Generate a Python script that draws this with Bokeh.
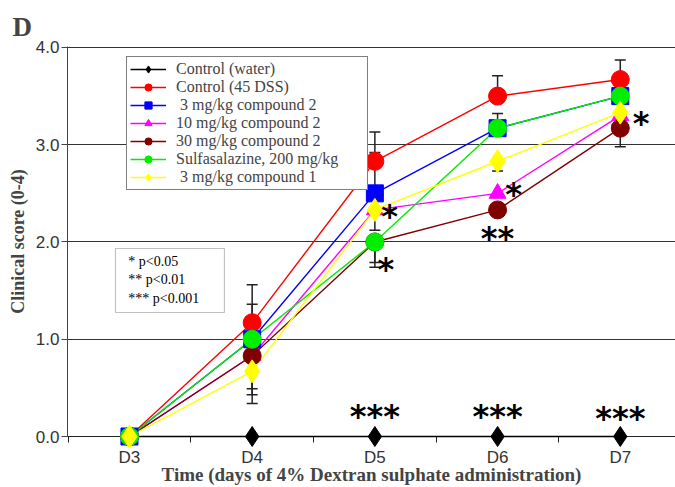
from bokeh.plotting import figure
from bokeh.models import (FixedTicker, Legend, LegendItem, Label, BoxAnnotation,
                          PrintfTickFormatter, ColumnDataSource)
from bokeh.core.properties import value
from bokeh.embed import file_html
from bokeh.resources import INLINE

# ---------------- data ----------------
days = ["D3", "D4", "D5", "D6", "D7"]
xpos = [0, 1, 2, 3, 4]

series_labels = ["Control (water)", "Control (45 DSS)", " 3 mg/kg compound 2",
                 "10 mg/kg compound 2", "30 mg/kg compound 2",
                 "Sulfasalazine, 200 mg/kg", " 3 mg/kg compound 1"]

water = [0.0, 0.0, 0.0, 0.0, 0.0]
dss = [0.0, 1.17, 2.83, 3.50, 3.67]
c2_3 = [0.0, 1.00, 2.50, 3.17, 3.50]
c2_10 = [0.0, 0.83, 2.33, 2.50, 3.30]
c2_30 = [0.0, 0.83, 2.00, 2.33, 3.17]
sulfa = [0.0, 1.00, 2.00, 3.17, 3.50]
c1_3 = [0.0, 0.67, 2.33, 2.83, 3.33]

# visible error bar extents (upper / lower)
water_up = [0, 0, 0, 0, 0];        water_lo = [0, 0, 0, 0, 0]
dss_up = [0, 0.39, 0.30, 0.21, 0.20]; dss_lo = [0, 0, 0, 0, 0]
c2_3_up = [0, 0.36, 0.42, 0.15, 0];   c2_3_lo = [0, 0, 0, 0, 0]
c2_10_up = [0, 0, 0, 0, 0];           c2_10_lo = [0, 0.40, 0.21, 0, 0]
c2_30_up = [0, 0, 0, 0, 0];           c2_30_lo = [0, 0.34, 0.21, 0, 0.19]
sulfa_up = [0, 0, 0, 0, 0];           sulfa_lo = [0, 0, 0.26, 0, 0]
c1_3_up = [0, 0, 0, 0, 0];            c1_3_lo = [0, 0.33, 0, 0.10, 0]

# significance marks
sig_text = ["***", "***", "***", "*", "*", "*", "**", "*"]
sig_x = [2.0, 3.0, 4.0, 2.12, 2.09, 3.13, 3.0, 4.17]
sig_y = [0.27, 0.27, 0.25, 2.33, 1.78, 2.56, 2.10, 3.28]

p_values = ["* p<0.05", "** p<0.01", "*** p<0.001"]

# ---------------- styles ----------------
colors = ["black", "#ff0000", "#0000ff", "#ff00ff", "#800000", "#00ee00", "#ffff00"]
markers = ["diamond", "circle", "square", "triangle", "circle", "circle", "diamond"]
msizes = [20, 18, 17, 17, 18, 18, 23]

values_list = [water, dss, c2_3, c2_10, c2_30, sulfa, c1_3]
ups = [water_up, dss_up, c2_3_up, c2_10_up, c2_30_up, sulfa_up, c1_3_up]
los = [water_lo, dss_lo, c2_3_lo, c2_10_lo, c2_30_lo, sulfa_lo, c1_3_lo]

p = figure(width=675, height=487, x_range=(-0.505, 4.45), y_range=(0, 4.01),
           output_backend="svg", toolbar_location=None,
           min_border_left=67, min_border_right=0, min_border_top=46, min_border_bottom=51)
p.outline_line_color = None
p.background_fill_color = "white"

# panel letter as title
p.title.text = "D"
p.title.align = "left"
p.title.offset = -55
p.title.text_font = "Liberation Serif"
p.title.text_font_style = "bold"
p.title.text_font_size = "27px"
p.title.standoff = 9

# axes
p.xaxis.ticker = FixedTicker(ticks=xpos, minor_ticks=[-0.5, 0.5, 1.5, 2.5, 3.5])
p.xaxis.major_label_overrides = {x: d for x, d in zip(xpos, days)}
p.xaxis.major_tick_out = 0
p.xaxis.major_tick_in = 0
p.xaxis.minor_tick_out = 6
p.xaxis.minor_tick_in = 0
p.xaxis.minor_tick_line_color = "#222222"
p.xaxis.axis_line_color = "#222222"
p.xaxis.major_label_standoff = 5
p.xaxis.major_label_text_font = "Liberation Sans"
p.xaxis.major_label_text_font_size = "17px"
p.xaxis.major_label_text_color = "#333333"
p.xaxis.axis_label = "Time (days of 4% Dextran sulphate administration)"
p.xaxis.axis_label_text_font = "Liberation Serif"
p.xaxis.axis_label_text_font_style = "bold"
p.xaxis.axis_label_text_font_size = "19px"
p.xaxis.axis_label_standoff = -6

p.yaxis.ticker = FixedTicker(ticks=[0, 1, 2, 3, 4], minor_ticks=[])
p.yaxis.formatter = PrintfTickFormatter(format="%.1f")
p.yaxis.major_tick_out = 6
p.yaxis.major_tick_in = 0
p.yaxis.major_tick_line_color = "#444444"
p.yaxis.axis_line_color = "#444444"
p.yaxis.major_label_standoff = 2
p.yaxis.major_label_text_font = "Liberation Sans"
p.yaxis.major_label_text_font_size = "17px"
p.yaxis.major_label_text_color = "#333333"
p.yaxis.axis_label = "Clinical score (0-4)"
p.yaxis.axis_label_text_font = "Liberation Serif"
p.yaxis.axis_label_text_font_style = "bold"
p.yaxis.axis_label_text_font_size = "18px"
p.yaxis.axis_label_standoff = 5

p.xgrid.visible = False
p.ygrid.ticker = FixedTicker(ticks=[1, 2, 3, 4])
p.ygrid.grid_line_color = "#333333"
p.ygrid.grid_line_width = 1

# error bars
for vals, up, lo in zip(values_list, ups, los):
    x0, y0, y1, cx, cy = [], [], [], [], []
    for x, v, u, l in zip(xpos, vals, up, lo):
        if u > 0:
            x0.append(x); y0.append(v); y1.append(v + u); cx.append(x); cy.append(v + u)
        if l > 0:
            x0.append(x); y0.append(v); y1.append(v - l); cx.append(x); cy.append(v - l)
    if x0:
        p.segment(x0=x0, y0=y0, x1=x0, y1=y1, line_color="#222222", line_width=1.5)
        p.scatter(x=cx, y=cy, marker="dash", size=11, line_color="#222222", line_width=1.5)

# series
items = []
for i, (lab, vals) in enumerate(zip(series_labels, values_list)):
    src = ColumnDataSource(dict(x=xpos, y=vals))
    lr = p.line("x", "y", source=src, line_color=colors[i], line_width=1.4,
                level="overlay" if i == 0 else "glyph")
    sr = p.scatter("x", "y", source=src, marker=markers[i], size=msizes[i],
                   fill_color=colors[i], line_color=colors[i], level="overlay")
    items.append(LegendItem(label=lab, renderers=[lr, sr]))

legend = Legend(items=items, location=(59, 246), border_line_color="black",
                border_line_width=1, background_fill_alpha=1.0,
                label_text_font="Liberation Serif", label_text_font_size="16px",
                glyph_width=36, glyph_height=18, label_height=18, spacing=0,
                padding=3, margin=0, label_standoff=10, label_width=188)
p.add_layout(legend, "center")

# significance marks
sig_src = ColumnDataSource(dict(x=sig_x, y=sig_y, t=sig_text))
p.text("x", "y", text="t", source=sig_src, text_font=value("DejaVu Sans"),
       text_font_style="bold", text_font_size="32px", text_align="center",
       text_baseline="alphabetic", y_offset=6, text_color="black", level="overlay")

# p-value key box
p.add_layout(BoxAnnotation(left=-0.114, right=0.774, bottom=1.275, top=1.933,
                           fill_color="white", fill_alpha=1.0,
                           line_color="#333333", line_width=1.2))
for k, t in enumerate(p_values):
    p.add_layout(Label(x=-0.01, y=1.80 - k * 0.19, text=t, text_font="Liberation Serif",
                       text_font_size="14px", text_baseline="middle", text_color="black"))

open("out.html", "w").write(file_html(p, INLINE))
